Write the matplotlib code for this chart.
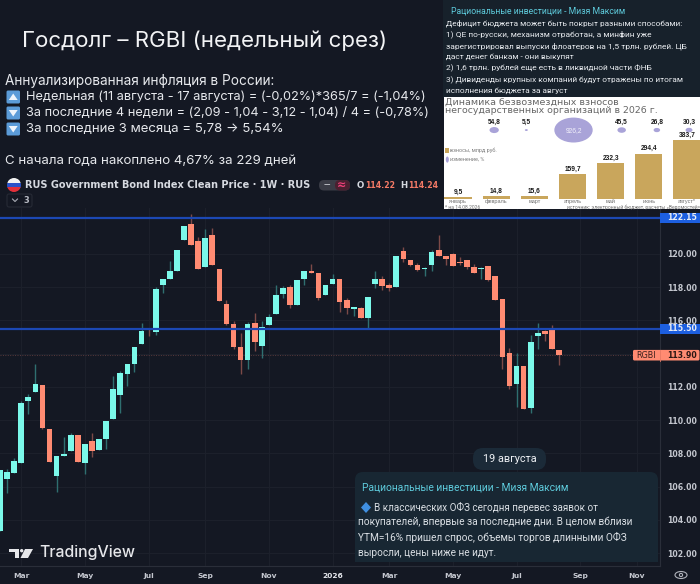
import matplotlib
matplotlib.use("Agg")
import matplotlib.pyplot as plt
from matplotlib.patches import FancyBboxPatch, Rectangle, Circle, Ellipse, Polygon

# ---------- data ----------
opens = [103.35,106.43,106.85,107.45,111.12,111.70,112.14,109.48,106.63,107.87,108.12,109.08,107.43,108.74,108.22,108.84,
         110.08,111.52,112.79,113.35,114.55,115.45,115.31,118.14,118.50,118.94,120.80,121.78,120.76,119.22,121.12,119.06,
         116.97,115.77,114.39,113.59,115.85,114.45,115.69,116.39,117.57,117.98,116.89,118.50,118.98,118.82,117.50,118.16,
         118.48,117.19,116.69,116.71,116.15,118.18,118.48,118.12,118.02,120.14,119.62,119.32,119.06,119.32,120.20,119.84,
         119.98,119.50,119.60,119.22,119.06,119.24,118.66,117.25,114.05,112.20,113.23,110.74,115.07,115.37,115.47,114.21]
closes = [107.00,106.89,107.55,111.04,111.40,112.20,109.54,107.50,107.82,107.97,109.08,107.51,108.58,108.14,108.84,109.94,
          111.84,112.81,113.35,114.41,115.37,115.39,117.89,118.46,118.98,120.24,121.68,120.52,119.06,120.94,119.34,117.13,
          115.79,114.37,113.59,115.77,114.71,115.61,116.17,117.55,117.93,116.89,118.42,118.94,118.82,117.37,118.10,118.48,
          117.07,116.71,116.77,116.15,117.40,118.46,118.07,117.92,119.84,119.68,119.34,119.02,119.14,120.08,119.88,119.68,
          119.28,119.44,119.20,118.86,119.14,118.42,117.23,113.81,112.08,113.23,110.64,114.69,115.21,115.17,114.25,113.91]
highs = [107.00,107.09,107.70,111.14,111.56,113.35,112.14,109.48,107.86,108.99,109.24,109.08,108.58,109.24,108.84,109.94,
         112.64,112.97,113.35,114.41,115.81,115.49,118.01,118.46,119.56,120.24,121.68,122.38,120.98,121.46,121.52,119.06,
         117.21,115.93,115.21,115.89,116.41,115.97,116.37,118.12,118.06,118.10,118.42,118.94,119.36,118.82,118.10,118.76,
         118.48,117.31,116.81,116.77,117.40,118.96,118.66,118.22,119.84,120.38,119.62,119.42,119.18,120.22,121.12,119.84,
         120.02,119.82,119.62,119.36,119.22,119.24,118.66,117.25,114.33,114.01,113.23,115.09,115.81,115.41,115.69,114.21]
lows = [103.35,105.63,106.85,107.45,110.36,111.70,109.44,107.50,105.65,107.83,108.12,107.51,106.79,107.80,108.22,108.28,
        110.08,110.40,112.08,112.92,114.55,115.05,115.13,117.65,118.50,118.94,120.80,120.52,119.06,119.22,119.34,117.13,
        115.71,114.25,112.80,113.09,114.17,113.73,115.69,116.39,117.33,116.75,116.89,118.10,118.82,117.21,117.50,118.16,
        116.49,116.39,116.25,116.15,115.51,117.97,117.80,117.77,118.02,119.52,119.28,118.98,118.68,118.98,119.88,119.32,
        119.28,119.34,119.10,118.82,118.50,118.38,117.23,113.05,111.86,110.76,110.64,110.40,114.29,114.75,114.25,113.29]
price_ticks = [102,104,106,108,110,112,114,116,118,120]
price_labels = ["102.00","104.00","106.00","108.00","110.00","112.00","","116.00","118.00","120.00"]
level_lines = [122.15, 115.50]
last_price = 113.90
tick_candles = [3,12,21,29,38,47,55,64,73,82,90]
tick_labels = ["Mar","May","Jul","Sep","Nov","2026","Mar","May","Jul","Sep","Nov"]

months = ["январь","февраль","март","апрель","май","июнь","август*"]
contrib = [9.5,14.8,15.6,159.7,232.3,294.4,383.7]
bubble_months = [1,2,3,4,5,6]
changes = [54.8,5.5,926.2,45.5,26.8,30.3]

# ---------- fonts / colours ----------
BG = "#141823"
GRID = "#1c202b"
UP = "#7bf9ea"
DOWN = "#ff8b72"
UPW = "#2f6f70"
DOWNW = "#7d4a47"
LEVEL = "#1c48b4"
GOTHIC = "Inter"
UI = "Roboto"
LABEL = "Liberation Sans"

W, H = 700, 584
fig = plt.figure(figsize=(W/100, H/100), dpi=100, facecolor=BG)

def px_axes(l, t, r, b, **kw):
    return fig.add_axes([l/W, 1-b/H, (r-l)/W, (b-t)/H], **kw)

# ---------- main candle chart ----------
ax = px_axes(0, 208, 660, 566, facecolor=BG)
ax.set_xlim(0, 660/7.076)
ax.set_ylim(101.23, 122.75)
xs = list(range(len(opens)))
for i in xs:
    up = closes[i] >= opens[i]
    ax.vlines(i, lows[i], highs[i], color=UPW if up else DOWNW, lw=1.0, zorder=3)
    ax.bar(i, abs(closes[i]-opens[i]), bottom=min(opens[i], closes[i]), width=0.8,
           color=UP if up else DOWN, lw=0, zorder=4)
ax.set_yticks(price_ticks)
ax.set_yticklabels(price_labels)
ax.set_xticks(tick_candles)
ax.set_xticklabels(tick_labels)
ax.yaxis.tick_right()
ax.grid(True, color=GRID, lw=0.8)
ax.set_axisbelow(True)
ax.tick_params(axis="both", length=0, colors="#c4c7cf")
for lab in ax.get_yticklabels():
    lab.set_fontsize(5.6); lab.set_fontweight("bold"); lab.set_fontfamily("DejaVu Sans")
for lab in ax.get_xticklabels():
    lab.set_fontsize(5.4); lab.set_fontweight("bold"); lab.set_fontfamily("DejaVu Sans")
ax.get_xticklabels()[5].set_color("#e6e8ee")
ax.tick_params(axis="y", pad=5)
ax.tick_params(axis="x", pad=5)
for s in ("top", "left"):
    ax.spines[s].set_visible(False)
for s in ("right", "bottom"):
    ax.spines[s].set_color("#2a2e39"); ax.spines[s].set_linewidth(0.8)
for lv in level_lines:
    ax.axhline(lv, color=LEVEL, lw=1.6, zorder=5)
ax.axhline(last_price, color="#5a3a3c", lw=0.7, ls=(0, (1, 1.5)), zorder=2)

# ---------- pixel overlay ----------
ov = fig.add_axes([0, 0, 1, 1], facecolor="none", zorder=10)
ov.set_xlim(0, W); ov.set_ylim(H, 0); ov.axis("off")

def text(x, y, s, width=None, size=8, color="#dcdee3", family=UI, weight="normal", ha="left", **kw):
    t = ov.text(x, y, s, fontsize=size, color=color, family=family, fontweight=weight,
                ha=ha, va="center", **kw)
    if width:
        r = fig.canvas.get_renderer()
        t.set_fontsize(size*width/t.get_window_extent(r).width)
    return t

def rbox(l, t, r, b, color, rad=3, z=1):
    p = FancyBboxPatch((l+rad, t+rad), r-l-2*rad, b-t-2*rad, boxstyle=f"round,pad={rad},rounding_size={rad}",
                       fc=color, ec="none", zorder=z)
    ov.add_patch(p); return p

# headline block
LEFT = "#e6e8ec"
text(22, 41, "Госдолг – RGBI (недельный срез)", width=366, size=16, color="#f2f3f5", family=GOTHIC)
text(5, 81, "Аннуализированная инфляция в России:", width=272, size=9, color=LEFT, family=GOTHIC)
text(26, 97, "Недельная (11 августа - 17 августа) = (-0,02%)*365/7 = (-1,04%)", width=402, size=9, color=LEFT, family=GOTHIC)
text(26, 113, "За последние 4 недели = (2,09 - 1,04 - 3,12 - 1,04) / 4 = (-0,78%)", width=404, size=9, color=LEFT, family=GOTHIC)
text(26, 129, "За последние 3 месяца = 5,78 → 5,54%", width=258, size=9, color=LEFT, family=GOTHIC)
text(5, 161, "С начала года накоплено 4,67% за 229 дней", width=292, size=9, color=LEFT, family=GOTHIC)
for yc, is_up in ((97, True), (113, False), (129, False)):
    rbox(6.5, yc-6.5, 20, yc+6.5, "#5b9bd8", rad=1.5, z=3)
    if is_up:
        ov.add_patch(Polygon([(8.8, yc+3), (17.7, yc+3), (13.2, yc-3.5)], fc="#eef4fb", ec="none", zorder=4))
    else:
        ov.add_patch(Polygon([(8.8, yc-3), (17.7, yc-3), (13.2, yc+3.5)], fc="#eef4fb", ec="none", zorder=4))

# symbol row
clip = Circle((14, 185), 7, transform=ov.transData)
for top, col in ((178, "#f2f2f2"), (182.7, "#2b52c8"), (187.4, "#e2303a")):
    r = Rectangle((7, top), 14, 4.8, fc=col, ec="none", zorder=3)
    ov.add_patch(r); r.set_clip_path(clip)
text(25, 185, "RUS Government Bond Index Clean Price · 1W · RUS", width=287, size=7, color="#d6d9e0",
     family="DejaVu Sans", weight="bold")
rbox(319, 180, 350, 190.5, "#3a3c46", rad=5, z=2)
rbox(335, 180, 350, 190.5, "#4a2030", rad=5, z=3)
text(327, 185, "—", size=6, color="#c8cad0", ha="center", weight="bold", zorder=4)
text(342, 185, "≈", size=8, color="#f0407a", ha="center", family="DejaVu Sans", weight="bold", zorder=4)
text(357, 185, "O", size=6.2, color="#d6d9e0", family="DejaVu Sans", weight="bold")
text(365, 185, "114.22", width=30, size=7, color="#f47a66", family="DejaVu Sans", weight="bold")
text(400, 185, "H", size=6.2, color="#d6d9e0", family="DejaVu Sans", weight="bold")
text(408, 185, "114.24", width=30, size=7, color="#f47a66", family="DejaVu Sans", weight="bold")
rb = FancyBboxPatch((8, 195), 23, 11, boxstyle="round,pad=1,rounding_size=2", fc="none", ec="#262a35", lw=0.8)
ov.add_patch(rb)
ov.plot([12.5, 15, 17.5], [199, 201.5, 199], color="#a8abb4", lw=0.8)
text(23, 200.5, "3", size=6.0, color="#b6b9c2", family="DejaVu Sans", weight="bold")

# price labels
for lv, txt in zip(level_lines, ("122.15", "115.50")):
    yc = 253.7 + (120-lv)*16.64
    ov.add_patch(Rectangle((660, yc-5), 39.5, 10.2, fc="#1d5fe0", ec="none", zorder=3))
    text(682, yc, txt, size=5.6, color="#e8ecf5", family="DejaVu Sans", weight="bold", ha="center", zorder=4)
yc = 253.7 + (120-last_price)*16.64
rbox(633, yc-5.3, 699.5, yc+5.3, "#ff8b72", rad=1.5, z=3)
ov.plot([660, 660], [yc-5.3, yc+5.3], color="#e67a64", lw=0.6, zorder=4)
text(636.5, yc, "RGBI", size=5.8, color="#3a1f1c", family="DejaVu Sans", zorder=4)
text(682, yc, "113.90", size=5.6, color="#2a1512", family="DejaVu Sans", weight="bold", ha="center", zorder=4)

# TradingView logo
for poly in ([(9.3, 549), (19, 549), (19, 558), (14.5, 558), (14.5, 552.3), (9.3, 552.3)],
             [(25, 549), (33, 549), (28, 558), (20.5, 558)]):
    ov.add_patch(Polygon(poly, fc="#e6e7ea", ec="none", zorder=5))
ov.add_patch(Circle((21.7, 550.7), 1.7, fc="#e6e7ea", ec="none", zorder=5))
text(39, 553, "TradingView", width=96, size=10, color="#e6e7ea", family="Inter", weight="medium", zorder=5)

# eye icon
ov.add_patch(Ellipse((681, 575), 12, 7, fc="none", ec="#b0b3bb", lw=0.8))
ov.add_patch(Circle((681, 575), 1.6, fc="none", ec="#b0b3bb", lw=0.8))

# date pill + chat bubble
rbox(473, 448, 546, 470, "#1b2a38", rad=10, z=3)
text(509.5, 459, "19 августа", width=54, size=8, color="#eef1f5", ha="center", zorder=4)
rbox(355, 472, 658, 530, "#182733", rad=8, z=3)
ov.add_patch(Rectangle((355, 500), 303, 62, fc="#182733", ec="none", zorder=3))
CYAN = "#5ecbdc"
text(362, 487, "Рациональные инвестиции - Мизя Максим", width=208, size=8, color=CYAN, zorder=4)
ov.add_patch(Polygon([(361, 507.5), (366, 502), (371, 507.5), (366, 513)], fc="#3f8fe0", ec="none", zorder=4))
text(373.5, 507, "В классических ОФЗ сегодня перевес заявок от", width=225, size=8, color="#d9dee3", zorder=4)
text(358, 522, "покупателей, впервые за последние дни. В целом вблизи", width=276, size=8, color="#d9dee3", zorder=4)
text(358, 537, "YTM=16% пришел спрос, объемы торгов длинными ОФЗ", width=270, size=8, color="#d9dee3", zorder=4)
text(358, 553, "выросли, цены ниже не идут.", width=138, size=8, color="#d9dee3", zorder=4)

# top-right news panel
ov.add_patch(Rectangle((443, 0), 257, 98, fc="#17212b", ec="none", zorder=3))
text(451, 11, "Рациональные инвестиции - Мизя Максим", width=175, size=7, color=CYAN, zorder=4)
panel_lines = ["Дефицит бюджета может быть покрыт разными способами:",
               "1) QE по-русски, механизм отработан, а минфин уже",
               "зарегистрировал выпуски флоатеров на 1,5 трлн. рублей. ЦБ",
               "даст денег банкам - они выкупят",
               "2) 1,6 трлн. рублей еще есть в ликвидной части ФНБ",
               "3) Дивиденды крупных компаний будут отражены по итогам",
               "исполнения бюджета за август"]
panel_w = [238, 207, 242, 129, 208, 240, 122]
for k, (s, w_) in enumerate(zip(panel_lines, panel_w)):
    text(446, [23, 34, 46, 57, 68, 80, 91][k], s, width=w_, size=7, color="#e8ebef", zorder=4)

# ---------- inset bar chart ----------
ins = px_axes(444, 97, 700, 209, facecolor="white", zorder=11)
PXY = 6.536
ins.set_xlim(-0.367, 6.34)
ins.set_ylim(-67, 665)
ins.axis("off")
ins.add_patch(Rectangle((-0.367, -67), 6.707, 732, fc="white", ec="none", zorder=0))
mx = list(range(len(months)))
ins.bar(mx, contrib, width=0.71, color="#c9a65c", lw=0, zorder=2)
for i, v in enumerate(contrib):
    ins.text(i, v+9, str(v).replace(".", ","), ha="center", va="bottom", fontsize=4.8, color="#1a1a1a",
             family=LABEL, fontweight="bold", zorder=6)
    ins.text(i, -17, months[i], ha="center", va="center", fontsize=4.0, color="#6f6f6f", family=LABEL, zorder=6)
dx = [-2, -8, 1, 11, 8, 2]
for m, c, d in zip(bubble_months, changes, dx):
    w_px = 1.26*c**0.5
    ins.add_patch(Ellipse((m + d/38.17, 449), w_px/38.17, w_px*0.65*PXY, fc="#a9a3d8", ec="none", zorder=3))
    lab = str(c).replace(".", ",")
    if c > 500:
        ins.text(m + d/38.17, 449, lab, ha="center", va="center", fontsize=4.8, color="#f3f2fb", family=LABEL, zorder=6)
    else:
        ins.text(m + d/38.17, 497, lab, ha="center", va="center", fontsize=4.8, color="#1a1a1a",
                 family=LABEL, fontweight="bold", zorder=6)
t1 = ins.text(-0.35, 630, "Динамика безвозмездных взносов", fontsize=6, color="#666666", family="DejaVu Sans", va="center")
t2 = ins.text(-0.35, 578, "негосударственных организаций в 2026 г.", fontsize=6, color="#666666", family="DejaVu Sans", va="center")
rend = fig.canvas.get_renderer()
t1.set_fontsize(6*174/t1.get_window_extent(rend).width)
t2.set_fontsize(6*213/t2.get_window_extent(rend).width)
ins.add_patch(Rectangle((-0.33, 300), 0.1, 30, fc="#c9a65c", ec="none"))
ins.text(-0.2, 315, "взносы, млрд руб.", fontsize=4.0, color="#808080", family=UI, va="center")
ins.add_patch(Ellipse((-0.28, 256), 0.08, 40, fc="#a9a3d8", ec="none"))
ins.text(-0.2, 256, "изменение, %", fontsize=4.0, color="#808080", family=UI, va="center")
ins.text(-0.35, -54, "* на 14.08.2026", fontsize=3.6, color="#6f6f6f", family=UI, va="center")
ins.text(6.34, -54, "источник: электронный бюджет, расчеты «Ведомостей»", fontsize=3.6, color="#6f6f6f", family=UI,
         va="center", ha="right")

fig.savefig("out.png", dpi=100, facecolor=BG)
